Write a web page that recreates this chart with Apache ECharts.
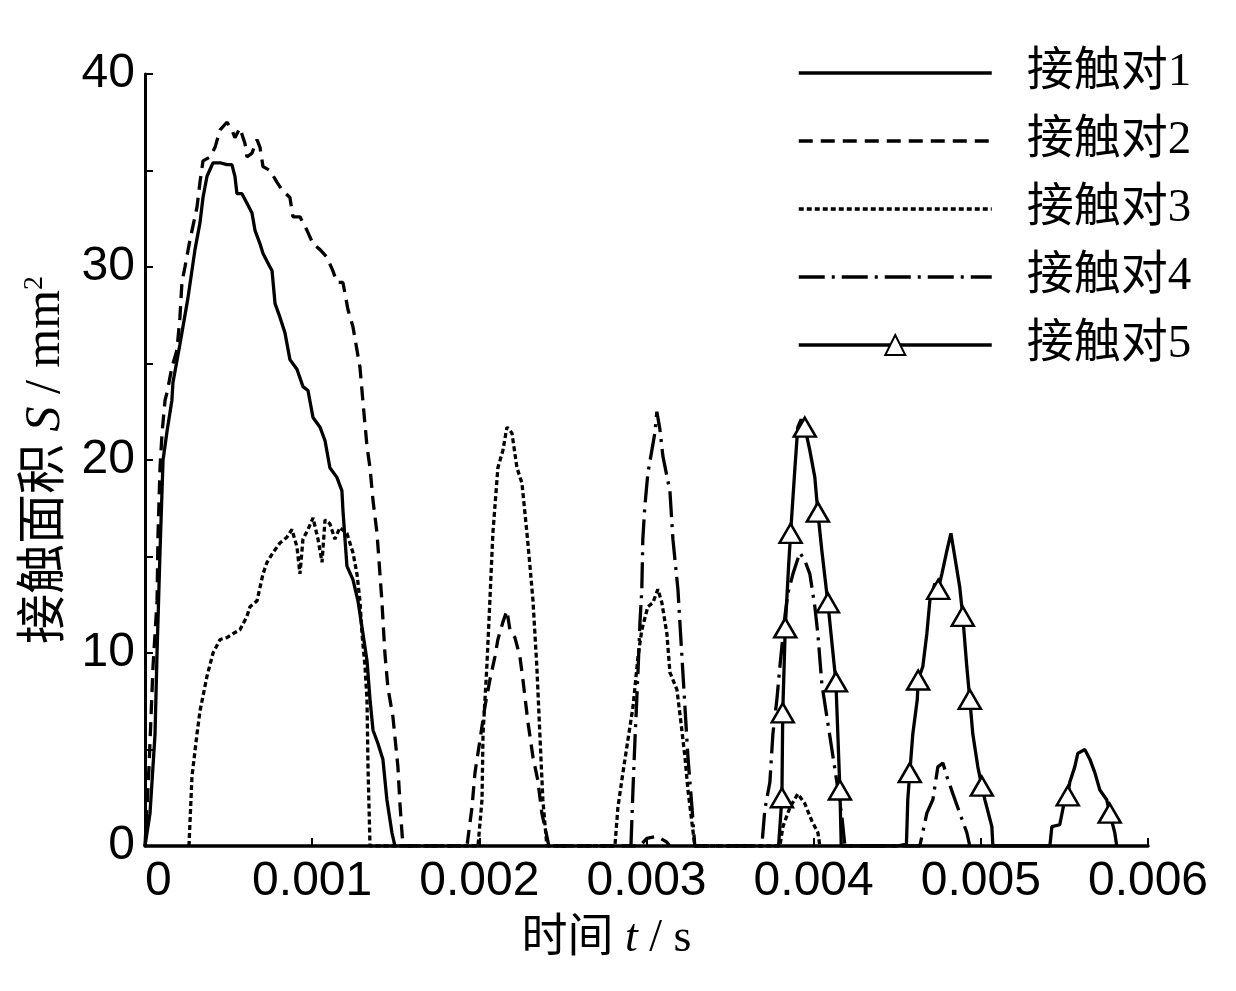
<!DOCTYPE html>
<html>
<head>
<meta charset="utf-8">
<script src="https://cdn.jsdelivr.net/npm/echarts@6/dist/echarts.min.js"></script>
<style>
html,body{margin:0;padding:0;background:#fff;}
#c{width:1236px;height:991px;}
</style>
</head>
<body>
<div id="c"></div>
<script>
// ---- data (time in ms, contact area in mm^2) ----
const seriesNames = ['接触对1', '接触对2', '接触对3', '接触对4', '接触对5'];
const xTickLabels = ['0', '0.001', '0.002', '0.003', '0.004', '0.005', '0.006'];
const yTickLabels = ['0', '10', '20', '30', '40'];

const pair1 = [[0,0],[0.030,1.7],[0.060,5.8],[0.072,10],[0.090,15.3],[0.108,20],[0.132,21.5],[0.161,23.1],[0.167,24],[0.209,26],[0.257,28.4],[0.299,30.9],[0.329,32.3],[0.347,33.6],[0.371,34.7],[0.407,35.4],[0.449,35.4],[0.490,35.3],[0.520,35.3],[0.538,34.7],[0.550,33.8],[0.580,33.8],[0.610,33.3],[0.640,32.8],[0.658,31.9],[0.688,31.2],[0.706,30.7],[0.736,30.2],[0.760,29.8],[0.778,28.1],[0.807,27.4],[0.837,26.6],[0.867,25.2],[0.909,24.7],[0.945,23.8],[0.975,23.6],[1.005,22.2],[1.047,21.7],[1.077,21.0],[1.106,19.6],[1.148,19.1],[1.178,18.4],[1.184,17.4],[1.208,14.5],[1.244,13.8],[1.274,12.7],[1.304,11.0],[1.328,9.6],[1.346,7.6],[1.364,6.0],[1.394,5.3],[1.423,4.5],[1.447,2.4],[1.477,0.7],[1.495,0]];

const pair2 = [[0,0],[0.024,4.1],[0.048,9.3],[0.072,12.7],[0.078,16.2],[0.090,19.6],[0.102,21.4],[0.120,23.1],[0.132,23.5],[0.161,24.8],[0.191,25.7],[0.209,27.4],[0.221,29.2],[0.239,30.0],[0.269,31.4],[0.311,33.1],[0.329,34.4],[0.347,35.5],[0.389,35.7],[0.419,36.2],[0.449,37.1],[0.490,37.5],[0.520,37.1],[0.538,36.7],[0.568,37.2],[0.598,36.4],[0.610,35.7],[0.640,35.9],[0.670,36.6],[0.688,36.2],[0.706,35.2],[0.748,35.0],[0.789,34.4],[0.819,34.0],[0.867,33.6],[0.885,32.6],[0.927,32.6],[0.969,31.9],[1.005,31.2],[1.047,30.9],[1.089,30.5],[1.124,29.8],[1.148,29.2],[1.184,29.2],[1.214,27.8],[1.244,26.9],[1.268,25.7],[1.286,24.8],[1.304,23.0],[1.328,20.7],[1.346,19.6],[1.364,17.9],[1.388,16.2],[1.417,12.7],[1.435,10.0],[1.453,8.2],[1.483,6.7],[1.513,4.1],[1.525,2.2],[1.543,0],
  [1.926,0],[1.956,2.0],[1.974,3.8],[2.004,5.5],[2.033,7.2],[2.063,8.6],[2.093,9.8],[2.111,10.7],[2.141,11.6],[2.165,12.2],[2.183,11.2],[2.213,10.8],[2.243,9.8],[2.261,8.6],[2.291,6.4],[2.321,4.6],[2.350,3.4],[2.374,1.7],[2.404,0.5],[2.416,0],
  [2.961,0],[3.002,0.4],[3.062,0.5],[3.122,0.2],[3.140,0]];

const pair3 = [[0.263,0],[0.281,3.6],[0.311,5.8],[0.329,7.0],[0.371,8.8],[0.407,10.0],[0.449,10.7],[0.490,10.8],[0.526,11.0],[0.568,11.2],[0.610,11.9],[0.628,12.4],[0.670,12.7],[0.706,14.1],[0.730,14.7],[0.766,15.2],[0.807,15.7],[0.849,16.0],[0.879,16.4],[0.909,15.5],[0.927,14.1],[0.945,15.9],[0.975,16.4],[1.005,17.0],[1.035,15.9],[1.059,14.7],[1.077,16.9],[1.106,16.7],[1.136,15.9],[1.166,16.5],[1.208,16.2],[1.244,15.2],[1.268,14.1],[1.286,12.7],[1.298,11.0],[1.316,9.3],[1.328,7.6],[1.334,4.1],[1.346,0],
  [1.992,0],[2.016,2.4],[2.022,5.8],[2.045,9.3],[2.063,12.7],[2.081,16.2],[2.111,19.6],[2.141,20.5],[2.165,21.7],[2.195,21.4],[2.225,19.6],[2.255,18.8],[2.285,16.2],[2.303,14.5],[2.321,12.7],[2.344,9.3],[2.362,5.8],[2.380,2.4],[2.404,0],
  [2.811,0],[2.829,2.0],[2.859,3.8],[2.889,5.5],[2.919,7.2],[2.949,9.8],[2.972,11.2],[3.008,12.4],[3.038,12.6],[3.068,13.3],[3.092,12.6],[3.122,11.0],[3.140,9.0],[3.182,8.1],[3.206,6.4],[3.230,4.6],[3.248,2.9],[3.272,1.2],[3.289,0],
  [3.798,0],[3.816,1.0],[3.858,2.0],[3.905,2.7],[3.947,2.2],[3.989,1.3],[4.025,0.7],[4.037,0]];

const pair4 = [[2.907,0],[2.919,2.9],[2.931,5.5],[2.949,9.0],[2.961,11.6],[2.972,13.3],[2.978,15.9],[2.990,17.6],[3.008,19.3],[3.032,20.5],[3.050,21.4],[3.062,22.5],[3.080,21.6],[3.098,20.2],[3.140,18.4],[3.158,15.9],[3.188,13.3],[3.212,9.8],[3.230,7.2],[3.248,4.6],[3.272,2.0],[3.289,0],
  [3.690,0],[3.708,1.9],[3.738,3.3],[3.756,5.8],[3.780,7.6],[3.798,9.3],[3.828,11.9],[3.846,13.1],[3.876,14.1],[3.917,15.2],[3.947,14.8],[3.977,14.1],[4.007,12.4],[4.025,11.0],[4.049,8.4],[4.079,6.7],[4.109,5.0],[4.139,3.3],[4.169,1.5],[4.187,0],
  [4.635,0],[4.677,1.7],[4.713,2.4],[4.743,4.1],[4.773,4.3],[4.797,3.6],[4.833,2.7],[4.874,1.7],[4.916,0.7],[4.934,0]];

const pair5 = [[3.79,0],[3.81,2.5],[3.815,6.9],[3.83,11.3],[3.85,14.5],[3.862,16.2],[3.888,19.6],[3.905,21.7],[3.925,22.1],[3.947,21.7],[3.977,20.5],[4.007,19.1],[4.025,17.3],[4.049,15.3],[4.085,12.6],[4.133,8.5],[4.157,2.9],[4.165,0],
  [4.50,0],[4.555,0.1],[4.563,2.4],[4.575,3.8],[4.593,5.8],[4.62,7.6],[4.625,8.6],[4.653,9.3],[4.677,11.0],[4.695,12.7],[4.725,13.6],[4.745,13.3],[4.767,14.1],[4.797,15.3],[4.821,16.2],[4.844,15.0],[4.874,13.4],[4.892,11.9],[4.916,9.3],[4.934,7.6],[4.952,5.8],[4.982,4.1],[5.006,3.1],[5.024,2.4],[5.066,1.0],[5.072,0],
  [5.413,0],[5.425,1.0],[5.472,1.1],[5.502,2.4],[5.52,2.6],[5.532,3.3],[5.562,4.1],[5.58,4.8],[5.622,5.0],[5.652,4.5],[5.682,3.8],[5.712,2.9],[5.753,2.4],[5.771,1.7],[5.783,1.3],[5.801,0.7],[5.813,0]];
// indices of pair5 points that carry a triangle marker
const pair5MarkerIdx = [1,2,3,5,9,12,14,15,16,21,24,29,35,37,40,48,57];

// ---- chart ----
const toSec = arr => arr.map(p => [p[0] / 1000, p[1]]);
const serif = "'Liberation Serif', 'Noto Sans CJK SC', serif";
const sans = "'Liberation Sans', Arial, sans-serif";

const chart = echarts.init(document.getElementById('c'), null, {renderer: 'canvas'});

function lineSeries(name, data, dash) {
  return {
    name: name, type: 'line', data: toSec(data),
    symbol: 'none', showSymbol: false, smooth: false,
    lineStyle: {color: '#000', width: 3.3, type: dash},
    itemStyle: {color: '#000'},
    animation: false, z: 2
  };
}

const s5data = toSec(pair5).map((p, i) => pair5MarkerIdx.includes(i) ? {value: p} : {value: p, symbol: 'none'});

const option = {
  backgroundColor: '#fff',
  animation: false,
  grid: {left: 145, right: 88, top: 74, bottom: 145, containLabel: false, outerBoundsMode: 'none'},
  xAxis: {
    type: 'value', min: 0, max: 0.006, interval: 0.001,
    axisLine: {show: true, lineStyle: {color: '#000', width: 3.5}},
    axisTick: {show: true, inside: true, length: 8, lineStyle: {color: '#000', width: 2}},
    splitLine: {show: false},
    axisLabel: {
      color: '#000', fontSize: 48, fontFamily: sans, margin: 12,
      alignMinLabel: 'left',
      formatter: v => xTickLabels[Math.round(v * 1000)]
    },
    name: '{c|时间 }{i|t}{c| / s}',
    nameLocation: 'middle', nameGap: 70,
    nameTextStyle: {
      padding: [0, 80, 0, 0],
      rich: {
        c: {fontSize: 46, fontFamily: serif, color: '#000'},
        i: {fontSize: 46, fontFamily: 'Liberation Serif', fontStyle: 'italic', color: '#000'}
      }
    }
  },
  yAxis: {
    type: 'value', min: 0, max: 40, interval: 5,
    axisLine: {show: true, lineStyle: {color: '#000', width: 3}},
    axisTick: {show: true, inside: true, length: 8, lineStyle: {color: '#000', width: 2}},
    splitLine: {show: false},
    axisLabel: {
      color: '#000', fontSize: 48, fontFamily: sans, margin: 10,
      formatter: v => (v % 10 === 0 ? yTickLabels[v / 10] : '')
    },
    name: '{c|接触面积 }{i|S}{c| / mm}{s|2}',
    nameLocation: 'middle', nameGap: 60,
    nameTextStyle: {
      rich: {
        c: {fontSize: 50, fontFamily: serif, color: '#000'},
        i: {fontSize: 50, fontFamily: 'Liberation Serif', fontStyle: 'italic', color: '#000'},
        s: {fontSize: 28, fontFamily: 'Liberation Serif', color: '#000', verticalAlign: 'top', padding: [0, 0, 22, 0]}
      }
    }
  },
  legend: {
    orient: 'vertical', left: 792, top: 43,
    itemWidth: 193, itemHeight: 25, itemGap: 18,
    lineStyle: {width: 3.5},
    textStyle: {fontSize: 47, fontFamily: serif, color: '#000', lineHeight: 50, padding: [0, 0, 0, 30]},
    data: [
      {name: seriesNames[0], itemStyle: {opacity: 0}},
      {name: seriesNames[1], itemStyle: {opacity: 0}},
      {name: seriesNames[2], itemStyle: {opacity: 0}},
      {name: seriesNames[3], itemStyle: {opacity: 0}},
      {name: seriesNames[4]}
    ]
  },
  series: [
    lineSeries(seriesNames[0], pair1, 'solid'),
    lineSeries(seriesNames[1], pair2, [14, 8]),
    lineSeries(seriesNames[2], pair3, [5, 3]),
    lineSeries(seriesNames[3], pair4, [26, 7, 3, 7]),
    {
      name: seriesNames[4], type: 'line', data: s5data,
      symbol: 'triangle', symbolSize: [22, 19], showSymbol: true, showAllSymbol: true,
      lineStyle: {color: '#000', width: 3.3, type: 'solid'},
      itemStyle: {color: '#fff', borderColor: '#000', borderWidth: 2.5},
      animation: false, z: 3
    }
  ]
};
chart.setOption(option);
</script>
</body>
</html>
